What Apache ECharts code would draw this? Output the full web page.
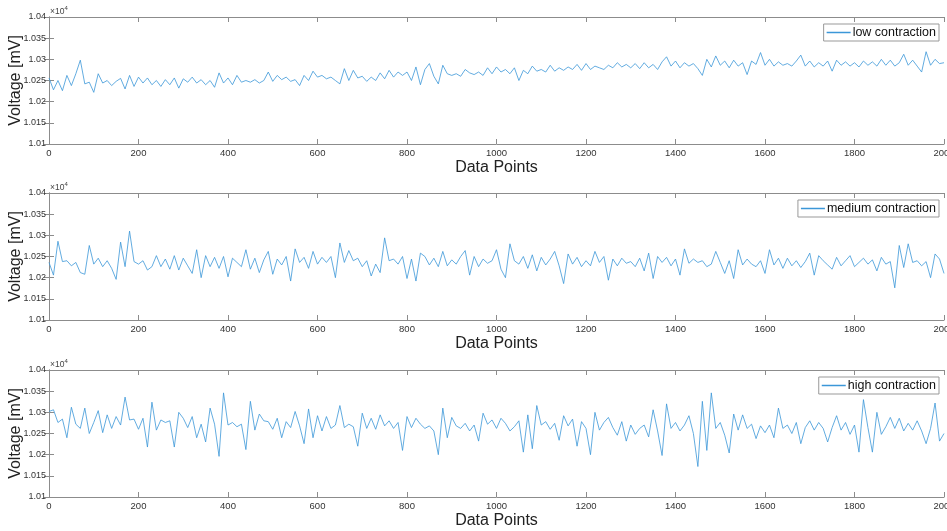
<!DOCTYPE html>
<html>
<head>
<meta charset="utf-8">
<title>Voltage contraction</title>
<script src="https://cdn.jsdelivr.net/npm/echarts@6/dist/echarts.min.js"></script>
<style>
  html, body { margin: 0; padding: 0; background: #fff; }
  #chart { width: 947px; height: 531px; }
</style>
</head>
<body>
<div id="chart"></div>
<script>
// samples, one every 10 data points (0..2000)
const sampleStep = 10;
const seriesNames = ['low contraction', 'medium contraction', 'high contraction'];
const xTicks = [0, 200, 400, 600, 800, 1000, 1200, 1400, 1600, 1800, 2000];
const yTicks = [10100, 10150, 10200, 10250, 10300, 10350, 10400];

const lowValues = [
  10256, 10228, 10250, 10226, 10262, 10238, 10266, 10298, 10242, 10246,
  10222, 10266, 10244, 10250, 10238, 10248, 10255, 10230, 10262, 10236,
  10258, 10244, 10256, 10240, 10250, 10236, 10252, 10240, 10256, 10232,
  10254, 10246, 10258, 10244, 10252, 10240, 10250, 10234, 10268, 10244,
  10256, 10240, 10262, 10246, 10250, 10246, 10252, 10244, 10250, 10270,
  10248, 10262, 10252, 10258, 10248, 10252, 10238, 10262, 10250, 10272,
  10258,
  10262, 10254, 10258, 10250, 10242, 10278, 10250, 10274, 10256, 10260,
  10248, 10258, 10250, 10268, 10254, 10274, 10258, 10270, 10262, 10270,
  10250, 10282, 10240, 10276, 10290, 10260, 10242, 10286, 10266, 10262,
  10266, 10260, 10276, 10268, 10264, 10270, 10262, 10280, 10266, 10282,
  10270, 10276, 10266, 10280, 10250, 10274, 10266, 10284, 10272, 10276,
  10270, 10286, 10272, 10280, 10274, 10282, 10276, 10288, 10274, 10290,
  10276, 10284, 10280, 10276, 10286, 10280, 10292, 10282, 10288,
  10280, 10290, 10278, 10292, 10280, 10288, 10276, 10294, 10306, 10284,
  10296, 10280, 10292, 10284, 10290, 10278, 10262, 10300, 10282, 10308,
  10286, 10296, 10280, 10298, 10284, 10292, 10264, 10296, 10288, 10316,
  10286, 10300, 10284, 10294, 10286, 10290, 10284, 10296, 10310, 10284,
  10296, 10282, 10292, 10284, 10296, 10272, 10298, 10286, 10294, 10284,
  10292, 10282, 10296, 10286, 10294, 10284, 10300, 10286, 10298, 10284,
  10292, 10312, 10286, 10298, 10284, 10270, 10318, 10286, 10300, 10290,
  10292
];

const mediumValues = [
  10236, 10206, 10286, 10238, 10240, 10228, 10236, 10212, 10208, 10276,
  10232, 10246, 10226, 10240, 10222, 10196, 10284, 10226, 10310, 10238,
  10232, 10240, 10218, 10226, 10252, 10226, 10244, 10220, 10252, 10218,
  10246, 10228, 10210, 10266, 10200, 10252, 10226, 10248, 10222, 10250,
  10202, 10246, 10236, 10226, 10266, 10220, 10246, 10212, 10242, 10262,
  10208, 10244, 10230, 10250, 10192, 10268, 10236, 10248, 10222, 10262,
  10232,
  10248, 10236, 10250, 10200, 10282, 10236, 10264, 10240, 10246, 10226,
  10240, 10204, 10232, 10212, 10294, 10240, 10244, 10232, 10250, 10198,
  10244, 10192, 10258, 10250, 10230, 10246, 10226, 10262, 10228, 10242,
  10232, 10250, 10264, 10206, 10250, 10226, 10244, 10234, 10240, 10266,
  10220, 10200, 10280, 10240, 10232, 10250, 10222, 10254, 10216, 10248,
  10230, 10244, 10262, 10228, 10186, 10256, 10232, 10248, 10226, 10240,
  10228, 10262, 10236, 10250, 10194, 10244, 10228, 10246, 10234,
  10238, 10226, 10246, 10216, 10258, 10198, 10250, 10236, 10248, 10228,
  10244, 10206, 10268, 10234, 10244, 10236, 10240, 10226, 10232, 10262,
  10236, 10210, 10240, 10198, 10266, 10230, 10244, 10232, 10226, 10240,
  10210, 10266, 10230, 10246, 10222, 10246, 10228, 10240, 10224, 10238,
  10258, 10206, 10252, 10240, 10230, 10220, 10248, 10228, 10240, 10252,
  10226, 10236, 10246, 10232, 10242, 10216, 10248, 10232, 10238, 10176,
  10276, 10224, 10280, 10236, 10240, 10228, 10238, 10200, 10256, 10244,
  10210
];

const highValues = [
  10302, 10306, 10276, 10284, 10240, 10312, 10272, 10262, 10310, 10250,
  10276, 10304, 10252, 10294, 10262, 10290, 10270, 10336, 10282, 10284,
  10260, 10286, 10218, 10324, 10258, 10282, 10276, 10280, 10218, 10300,
  10286, 10264, 10290, 10240, 10272, 10230, 10310, 10272, 10196, 10346,
  10270, 10276, 10266, 10272, 10212, 10326, 10258, 10296, 10280, 10278,
  10260, 10286, 10240, 10278, 10264, 10302, 10268, 10226, 10308, 10240,
  10292,
  10256, 10290, 10262, 10270, 10316, 10264, 10272, 10266, 10220, 10298,
  10262, 10286, 10260, 10294, 10268, 10280, 10262, 10276, 10210, 10290,
  10264, 10286, 10272, 10262, 10268, 10256, 10200, 10310, 10240, 10288,
  10268, 10262, 10274, 10256, 10270, 10232, 10298, 10272, 10282, 10262,
  10286, 10274, 10256, 10266, 10280, 10206, 10294, 10214, 10316, 10270,
  10278, 10260, 10274, 10234, 10292, 10268, 10284, 10220, 10278, 10262,
  10200, 10300, 10258, 10276, 10288, 10264, 10246, 10278, 10232,
  10270, 10248, 10262, 10270, 10242, 10306, 10256, 10198, 10320, 10262,
  10276, 10256, 10270, 10292, 10250, 10172, 10326, 10210, 10346, 10262,
  10276, 10246, 10204, 10296, 10258, 10294, 10262, 10272, 10238, 10268,
  10252, 10270, 10240, 10310, 10262, 10270, 10250, 10276, 10226, 10264,
  10280, 10258, 10276, 10262, 10230, 10264, 10292, 10258, 10276, 10248,
  10270, 10206, 10330, 10264, 10206, 10300, 10248, 10266, 10288, 10262,
  10286, 10256, 10274, 10258, 10280, 10256, 10226, 10262, 10322, 10232,
  10250
];

const allValues = [lowValues, mediumValues, highValues];

const chart = echarts.init(document.getElementById('chart'));

const font = 'Liberation Sans, Arial, Helvetica, sans-serif';
const axisGray = '#8c8c8c';
const lineBlue = '#3b97d8';
const gridTops = [17, 193, 370];
const gridHeight = 127;
const legendTops = [24, 200, 377];

const fmtY = v => String(parseFloat((v / 10000).toFixed(4)));

const grids = gridTops.map(t => ({
    left: 49, right: 3, top: t, height: gridHeight, outerBoundsMode: 'none'
}));

const xAxes = [];
const yAxes = [];
gridTops.forEach((t, i) => {
    const xBase = {
        gridIndex: i, type: 'value',
        min: xTicks[0], max: xTicks[xTicks.length - 1], interval: xTicks[1] - xTicks[0],
        axisLine: { show: true, lineStyle: { color: axisGray, width: 1 } },
        axisTick: { show: true, inside: true, length: 5, lineStyle: { color: axisGray } },
        splitLine: { show: false }
    };
    xAxes.push(Object.assign({}, xBase, {
        position: 'bottom',
        axisLabel: { fontSize: 9.5, color: '#333', margin: 4, fontFamily: font, formatter: v => String(v) },
        name: 'Data Points', nameLocation: 'middle', nameGap: 16, nameMoveOverlap: false,
        nameTextStyle: { fontSize: 16, color: '#222', fontFamily: font, verticalAlign: 'top' }
    }));
    xAxes.push(Object.assign({}, xBase, { position: 'top', axisLabel: { show: false } }));

    const yBase = {
        gridIndex: i, type: 'value',
        min: yTicks[0], max: yTicks[yTicks.length - 1], interval: yTicks[1] - yTicks[0],
        axisLine: { show: true, lineStyle: { color: axisGray, width: 1 } },
        axisTick: { show: true, inside: true, length: 5, lineStyle: { color: axisGray } },
        splitLine: { show: false }
    };
    yAxes.push(Object.assign({}, yBase, {
        position: 'left',
        axisLabel: { fontSize: 9, color: '#333', margin: 3, fontFamily: font, formatter: fmtY },
        name: 'Voltage [mV]', nameLocation: 'middle', nameGap: 25, nameRotate: 90, nameMoveOverlap: false,
        nameTextStyle: { fontSize: 16, color: '#222', fontFamily: font }
    }));
    yAxes.push(Object.assign({}, yBase, { position: 'right', axisLabel: { show: false } }));
});

const series = allValues.map((vals, i) => ({
    name: seriesNames[i],
    type: 'line',
    xAxisIndex: i * 2,
    yAxisIndex: i * 2,
    data: vals.map((v, k) => [k * sampleStep, v]),
    symbol: 'none',
    lineStyle: { color: lineBlue, width: 0.8 },
    itemStyle: { color: lineBlue },
    animation: false
}));

const legends = seriesNames.map((n, i) => ({
    data: [n],
    right: 8, top: legendTops[i],
    orient: 'horizontal',
    icon: 'rect',
    itemWidth: 24, itemHeight: 1.5, itemGap: 4,
    itemStyle: { color: lineBlue },
    padding: [2, 3, 2, 3],
    borderColor: '#999', borderWidth: 1, backgroundColor: '#fff',
    selectedMode: false,
    textStyle: { fontSize: 12.5, color: '#111', fontFamily: font, padding: [0, 0, 0, -3] }
}));

const exponentLabels = gridTops.map(t => ({
    type: 'text', left: 50, top: t - 12,
    style: {
        text: '{b|×10}{s|4}',
        rich: {
            b: { fontSize: 8.5, fill: '#444', fontFamily: font, verticalAlign: 'bottom' },
            s: { fontSize: 6, fill: '#444', fontFamily: font, verticalAlign: 'top', padding: [0, 0, 5, 0] }
        }
    }
}));

chart.setOption({
    animation: false,
    backgroundColor: '#fff',
    grid: grids,
    xAxis: xAxes,
    yAxis: yAxes,
    legend: legends,
    graphic: exponentLabels,
    series: series
});

window.addEventListener('resize', () => chart.resize());
</script>
</body>
</html>
